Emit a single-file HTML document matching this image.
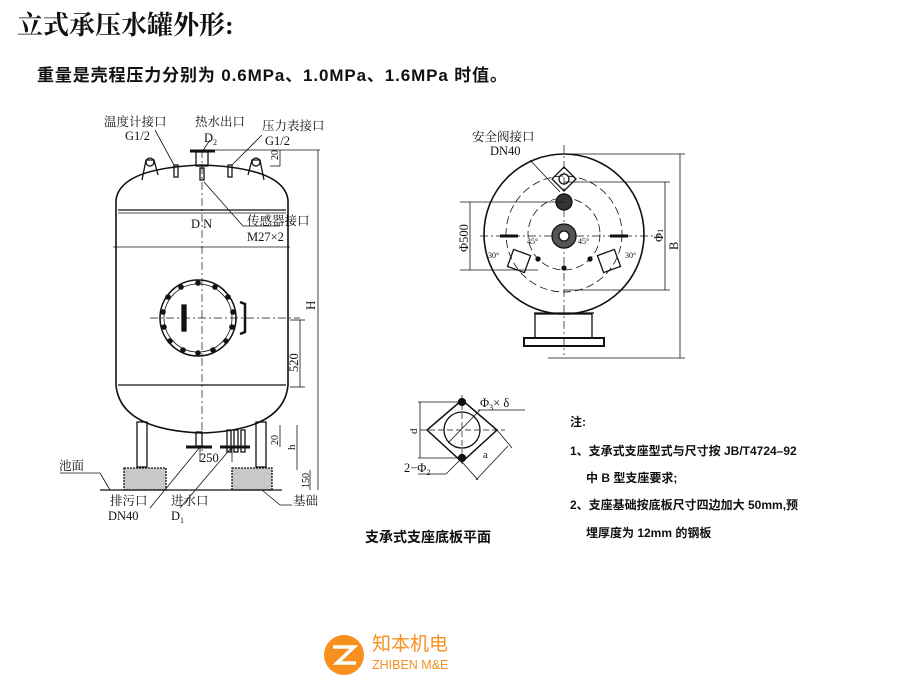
<!DOCTYPE html>
<html><head><meta charset="utf-8"><style>
html,body{margin:0;padding:0;background:#fff;width:900px;height:690px;overflow:hidden}
svg{display:block}
.s{font-family:"Liberation Serif","Noto Serif CJK SC",serif;fill:#111}
.a{font-family:"Liberation Sans","Noto Sans CJK SC",sans-serif;fill:#111}
</style></head><body>
<svg width="900" height="690" viewBox="0 0 900 690" xmlns="http://www.w3.org/2000/svg">
<text x="17" y="34" class="s" font-size="26" font-weight="bold">立式承压水罐外形:</text>
<text x="37" y="81" class="a" font-size="17" font-weight="bold" textLength="470">重量是壳程压力分别为 0.6MPa、1.0MPa、1.6MPa 时值。</text>

<g stroke="#111" fill="none" stroke-width="1.3">
<path d="M116,200 Q120,168 202,165 Q284,168 288,200 L288,385 Q284,430 202,433 Q120,430 116,385 Z" stroke-width="1.6"/>
<line x1="118" y1="210" x2="286" y2="210"/><line x1="118" y1="213" x2="286" y2="213" stroke-width="0.8"/>
<line x1="118" y1="385" x2="286" y2="385"/>
<line x1="113" y1="247" x2="290" y2="247" stroke-width="0.8"/>
<line x1="202" y1="150" x2="202" y2="455" stroke-dasharray="8,3,2,3" stroke-width="0.7"/>
<line x1="150" y1="318" x2="300" y2="318" stroke-dasharray="8,3,2,3" stroke-width="0.7"/>
<circle cx="198" cy="318" r="38" stroke-width="1.6"/>
<circle cx="198" cy="318" r="34" stroke-width="0.8"/>
<g fill="#111" stroke="none">
<circle cx="198" cy="283" r="2.8"/><circle cx="215" cy="287" r="2.8"/><circle cx="228" cy="297" r="2.8"/><circle cx="233" cy="312" r="2.8"/><circle cx="232" cy="327" r="2.8"/><circle cx="226" cy="341" r="2.8"/><circle cx="213" cy="350" r="2.8"/><circle cx="198" cy="353" r="2.8"/><circle cx="183" cy="350" r="2.8"/><circle cx="170" cy="341" r="2.8"/><circle cx="164" cy="327" r="2.8"/><circle cx="163" cy="312" r="2.8"/><circle cx="168" cy="297" r="2.8"/><circle cx="181" cy="287" r="2.8"/>
</g>
<rect x="182" y="305" width="4" height="26" fill="#111"/>
<path d="M240,302 L245,304 L245,332 L240,334" stroke-width="2.5"/>
<path d="M142,180 L146,160 L154,160 L158,175" /><circle cx="150" cy="162" r="4"/>
<path d="M248,175 L252,160 L260,160 L264,180" /><circle cx="256" cy="162" r="4"/>
<rect x="174" y="165" width="4" height="12"/><rect x="200" y="168" width="4" height="12"/><rect x="228" y="165" width="4" height="12"/>
<rect x="196" y="152" width="12" height="14"/><line x1="190" y1="151" x2="215" y2="151" stroke-width="3"/>
<line x1="215" y1="150" x2="320" y2="150" stroke-width="0.8"/>
<line x1="270" y1="166" x2="280" y2="166" stroke-width="0.8"/>
<rect x="137" y="422" width="10" height="45"/><rect x="256" y="422" width="10" height="45"/>
<rect x="227" y="430" width="4" height="22"/><rect x="234" y="430" width="4" height="22"/><rect x="241" y="430" width="4" height="22"/>
<rect x="196" y="432" width="6" height="14"/><line x1="186" y1="447" x2="212" y2="447" stroke-width="3"/>
<line x1="220" y1="447" x2="250" y2="447" stroke-width="3"/>
<rect x="124" y="468" width="42" height="22" fill="#c8c8c8" stroke-dasharray="2,1"/><rect x="232" y="468" width="40" height="22" fill="#c8c8c8" stroke-dasharray="2,1"/>
<line x1="100" y1="490" x2="282" y2="490"/>
<line x1="318" y1="150" x2="318" y2="490" stroke-width="0.8"/>
<line x1="300" y1="320" x2="300" y2="387" stroke-width="0.8"/>
<line x1="290" y1="320" x2="305" y2="320" stroke-width="0.8"/><line x1="290" y1="387" x2="305" y2="387" stroke-width="0.8"/>
<line x1="280" y1="150" x2="280" y2="166" stroke-width="0.8"/>
<line x1="280" y1="425" x2="280" y2="447" stroke-width="0.8"/>
<line x1="297" y1="425" x2="297" y2="470" stroke-width="0.8"/>
<line x1="310" y1="470" x2="310" y2="490" stroke-width="0.8"/>
<line x1="200" y1="447" x2="200" y2="462" stroke-width="0.8"/><line x1="232" y1="447" x2="232" y2="462" stroke-width="0.8"/>
<line x1="155" y1="130" x2="174" y2="165" stroke-width="0.8"/>
<line x1="262" y1="135" x2="232" y2="165" stroke-width="0.8"/>
<line x1="210" y1="140" x2="202" y2="152" stroke-width="0.8"/>
<path d="M204,182 L243,226 L280,226" stroke-width="0.8"/>
<line x1="60" y1="473" x2="100" y2="473" stroke-width="0.8"/><line x1="100" y1="473" x2="110" y2="490" stroke-width="0.8"/>
<line x1="150" y1="508" x2="200" y2="447" stroke-width="0.8"/>
<line x1="180" y1="508" x2="232" y2="447" stroke-width="0.8"/>
<path d="M262,490 L280,505 L292,505" stroke-width="0.8"/>

<circle cx="564" cy="234" r="80" stroke-width="1.6"/>
<circle cx="564" cy="234" r="58" stroke-dasharray="8,4" stroke-width="0.8"/>
<circle cx="564" cy="234" r="36" stroke-dasharray="8,4" stroke-width="0.8"/>
<line x1="564" y1="145" x2="564" y2="355" stroke-dasharray="8,3,2,3" stroke-width="0.7"/>
<line x1="480" y1="236" x2="660" y2="236" stroke-dasharray="8,3,2,3" stroke-width="0.7"/>
<path d="M564,167 L576,179 L564,191 L552,179 Z"/><circle cx="564" cy="179" r="5"/>
<circle cx="564" cy="202" r="8" fill="#333"/>
<circle cx="564" cy="236" r="12" fill="#555"/><circle cx="564" cy="236" r="5" fill="#fff"/>
<line x1="500" y1="236" x2="518" y2="236" stroke-width="3"/><line x1="610" y1="236" x2="628" y2="236" stroke-width="3"/>
<rect x="510" y="252" width="18" height="18" transform="rotate(20 519 261)"/>
<rect x="600" y="252" width="18" height="18" transform="rotate(-20 609 261)"/>
<circle cx="538" cy="259" r="2" fill="#111"/><circle cx="590" cy="259" r="2" fill="#111"/><circle cx="564" cy="268" r="2" fill="#111"/>
<rect x="535" y="314" width="57" height="24"/>
<rect x="524" y="338" width="80" height="8" stroke-width="2"/>
<line x1="534" y1="313" x2="594" y2="313"/>
<line x1="470" y1="202" x2="470" y2="270" stroke-width="0.8"/>
<line x1="460" y1="202" x2="564" y2="202" stroke-width="0.8"/><line x1="460" y1="270" x2="538" y2="270" stroke-width="0.8"/>
<line x1="665" y1="182" x2="665" y2="290" stroke-width="0.8"/>
<line x1="564" y1="182" x2="670" y2="182" stroke-width="0.8"/><line x1="564" y1="290" x2="670" y2="290" stroke-width="0.8"/>
<line x1="680" y1="154" x2="680" y2="358" stroke-width="0.8"/>
<line x1="564" y1="154" x2="685" y2="154" stroke-width="0.8"/><line x1="548" y1="358" x2="685" y2="358" stroke-width="0.8"/>
<line x1="530" y1="160" x2="560" y2="192" stroke-width="0.8"/>

<path d="M462,400 L497,430 L462,462 L427,430 Z" stroke-width="1.5"/>
<circle cx="462" cy="430" r="18"/>
<line x1="420" y1="430" x2="505" y2="430" stroke-dasharray="6,3" stroke-width="0.7"/>
<line x1="462" y1="395" x2="462" y2="466" stroke-dasharray="6,3" stroke-width="0.7"/>
<circle cx="462" cy="402" r="3.5" fill="#111"/><circle cx="462" cy="458" r="3.5" fill="#111"/>
<line x1="418" y1="402" x2="462" y2="402" stroke-width="0.8"/><line x1="418" y1="458" x2="462" y2="458" stroke-width="0.8"/>
<line x1="420" y1="402" x2="420" y2="458" stroke-width="0.8"/>
<line x1="448" y1="443" x2="480" y2="410" stroke-width="0.8"/><line x1="478" y1="410" x2="525" y2="410" stroke-width="0.8"/>
<line x1="497" y1="430" x2="512" y2="448" stroke-width="0.8"/><line x1="462" y1="462" x2="478" y2="480" stroke-width="0.8"/>
<line x1="508" y1="446" x2="476" y2="480" stroke-width="0.8"/>
<line x1="418" y1="474" x2="446" y2="474" stroke-width="0.8"/><line x1="446" y1="474" x2="460" y2="460" stroke-width="0.8"/>
</g>

<g class="s" font-size="12.5">
<text x="104" y="126">温度计接口</text><text x="125" y="140">G1/2</text>
<text x="195" y="126">热水出口</text><text x="204" y="142">D<tspan font-size="8" dy="3">2</tspan></text>
<text x="262" y="130">压力表接口</text><text x="265" y="145">G1/2</text>
<text x="191" y="228">D N</text>
<text x="247" y="225">传感器接口</text><text x="247" y="241">M27×2</text>
<text x="59" y="470">池面</text>
<text x="110" y="505">排污口</text><text x="108" y="520">DN40</text>
<text x="171" y="505">进水口</text><text x="171" y="520">D<tspan font-size="8" dy="3">1</tspan></text>
<text x="200" y="462">250</text>
<text x="293" y="505">基础</text>
<text x="472" y="141">安全阀接口</text><text x="490" y="155">DN40</text>
<text x="480" y="407">Φ<tspan font-size="8" dy="3">3</tspan><tspan dy="-3">× δ</tspan></text>
<text x="404" y="472">2−Φ<tspan font-size="8" dy="3">2</tspan></text>
<text transform="translate(315,310) rotate(-90)" font-size="13">H</text>
<text transform="translate(298,372) rotate(-90)">520</text>
<text transform="translate(278,160) rotate(-90)" font-size="10">20</text>
<text transform="translate(278,445) rotate(-90)" font-size="10">20</text>
<text transform="translate(295,450) rotate(-90)" font-size="11">h</text>
<text transform="translate(309,488) rotate(-90)" font-size="10">150</text>
<text transform="translate(468,252) rotate(-90)">Φ500</text>
<text transform="translate(663,242) rotate(-90)">Φ<tspan font-size="8">1</tspan></text>
<text transform="translate(678,250) rotate(-90)">B</text>
<text transform="translate(417,434) rotate(-90)" font-size="11">d</text>
<text x="483" y="458" font-size="11">a</text>
<text x="527" y="244" font-size="8">45°</text><text x="578" y="244" font-size="8">45°</text>
<text x="488" y="258" font-size="8">30°</text><text x="625" y="258" font-size="8">30°</text>
</g>

<g class="a" font-weight="bold">
<text x="365" y="542" font-size="14">支承式支座底板平面</text>
<text x="570" y="426" font-size="12">注:</text>
<text x="570" y="455" font-size="12">1、支承式支座型式与尺寸按 JB/T4724–92</text>
<text x="586" y="482" font-size="12">中 B 型支座要求;</text>
<text x="570" y="509" font-size="12">2、支座基础按底板尺寸四边加大 50mm,预</text>
<text x="586" y="537" font-size="12">埋厚度为 12mm 的钢板</text>
</g>

<circle cx="344" cy="655" r="20" fill="#f7901e"/>
<path d="M333,647 L354,647 L337,663 L356,663" stroke="#fff" stroke-width="3.5" fill="none"/>
<text x="372" y="650" font-family="Liberation Sans,Noto Sans CJK SC,sans-serif" font-size="19" fill="#f7901e">知本机电</text>
<text x="372" y="669" font-family="Liberation Sans,sans-serif" font-size="12.5" fill="#f7901e">ZHIBEN M&amp;E</text>
</svg>
</body></html>
